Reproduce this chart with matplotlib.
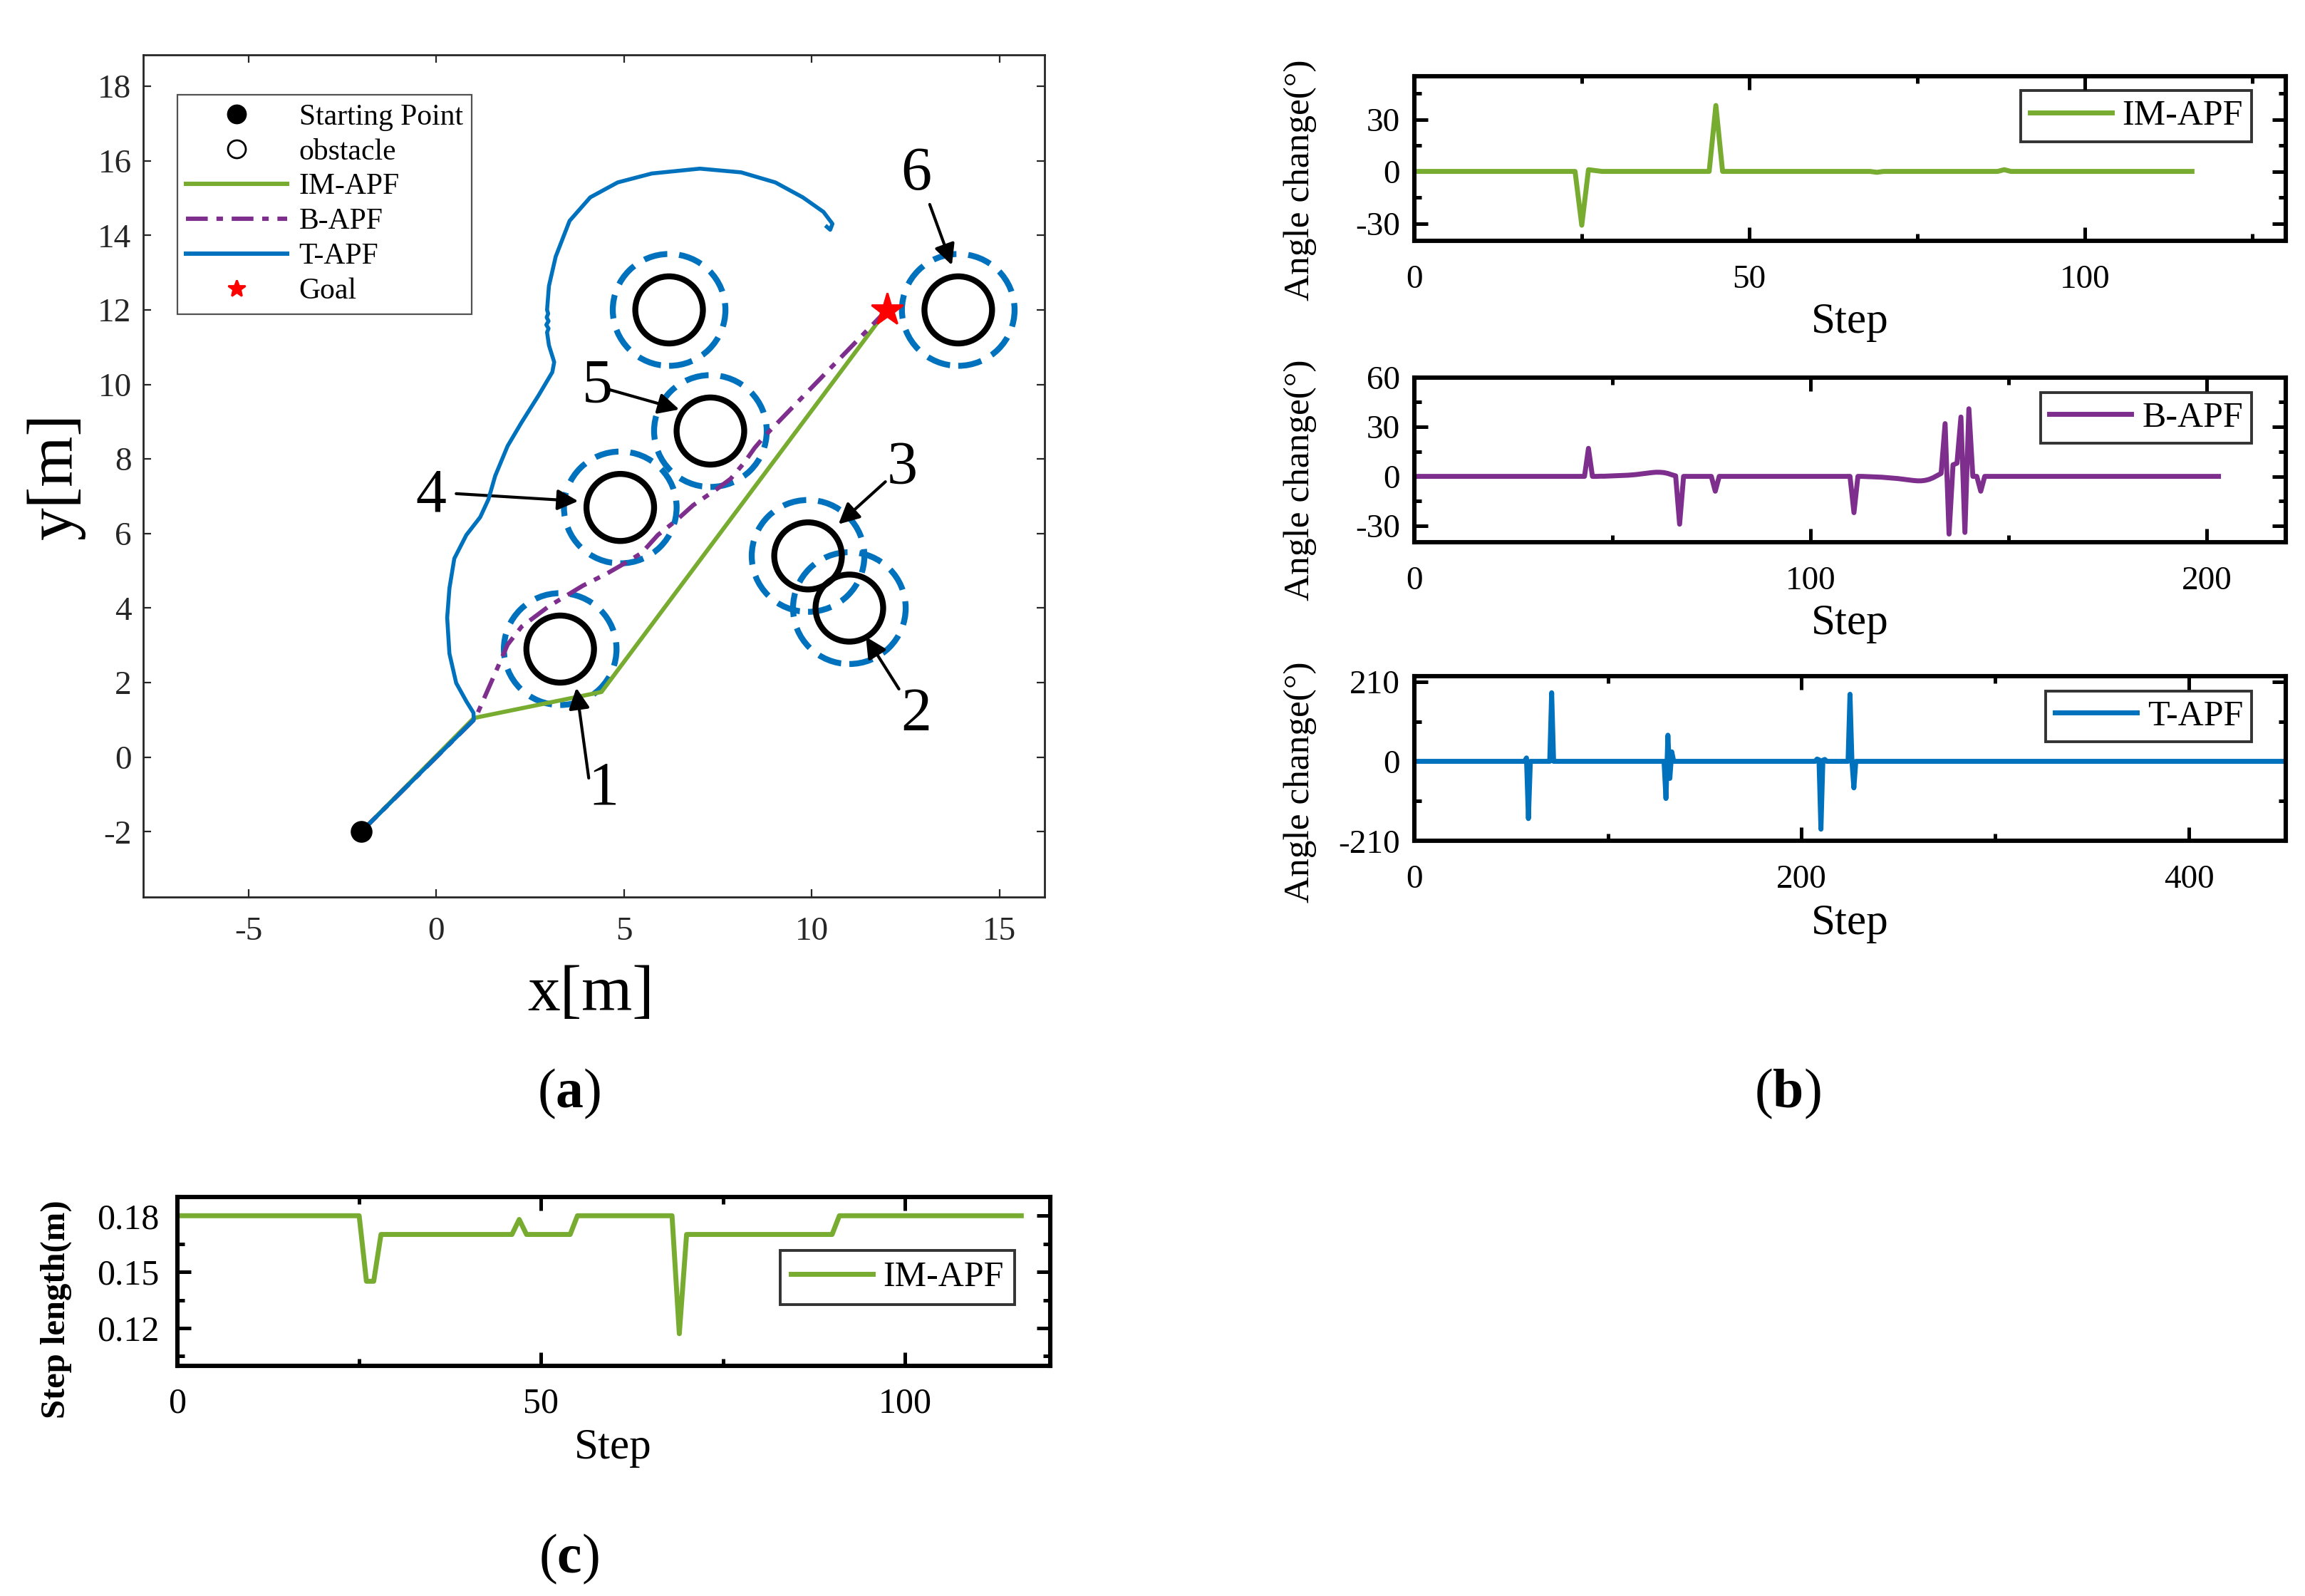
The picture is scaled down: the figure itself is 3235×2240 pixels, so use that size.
import matplotlib.pyplot as plt
import numpy as np
from matplotlib.lines import Line2D
from matplotlib.patches import Circle

plt.rcParams['font.family'] = ['Liberation Serif', 'DejaVu Serif']
plt.rcParams['mathtext.fontset'] = 'custom'
plt.rcParams['mathtext.rm'] = 'Liberation Serif'
plt.rcParams['mathtext.bf'] = 'Liberation Serif:bold'
plt.rcParams['axes.unicode_minus'] = False

GREEN = '#77AC30'
PURPLE = '#7E2F8E'
BLUE = '#0072BD'

# ---------------- (a) paths and obstacles ----------------
start = (-2, -2)
goal = (12, 12)
obs_x = [3.3, 11.0, 9.9, 4.9, 7.3, 6.2, 13.9]
obs_y = [2.9, 4.0, 5.4, 6.7, 8.75, 12.0, 12.0]
obs_r = 0.9
safe_r = 1.5

im_x = [-2, 1.0, 4.4, 12.0]
im_y = [-2, 1.05, 1.75, 12.0]

b_x = [-2, 0.8, 1.04, 1.9, 2.27, 3.0, 3.9, 4.55, 5.1, 5.47, 5.9, 6.4, 6.84,
       7.48, 7.84, 8.2, 8.48, 8.76, 12.0]
b_y = [-2, 0.8, 1.04, 3.02, 3.5, 4.05, 4.6, 4.93, 5.25, 5.48, 5.96, 6.36, 6.76,
       7.2, 7.47, 7.9, 8.3, 8.63, 12.0]

t_x = [-2, 1.0, 0.99, 0.8, 0.53, 0.35, 0.29, 0.35, 0.48, 0.8, 1.17, 1.39, 1.57,
       1.9, 2.27, 2.72, 3.09, 3.14, 3.0, 2.95, 2.99, 2.93, 2.99, 2.94, 2.98, 2.95,
       3.0, 3.18, 3.55, 4.1, 4.83, 5.74, 7.02, 8.12, 9.03, 9.76, 10.31, 10.55,
       10.49, 10.4]
t_y = [-2, 1.0, 1.19, 1.5, 1.99, 2.78, 3.74, 4.53, 5.33, 5.96, 6.44, 6.92, 7.55,
       8.35, 8.98, 9.7, 10.33, 10.6, 11.05, 11.4, 11.5, 11.6, 11.7, 11.8, 11.9,
       12.0, 12.64, 13.43, 14.39, 15.02, 15.42, 15.66, 15.79, 15.69, 15.42,
       15.02, 14.63, 14.31, 14.15, 14.23]

# numbered obstacle labels: text position, arrow tail, arrow head
num_labels = ['1', '2', '3', '4', '5', '6']
num_text = [(4.46, -0.87), (12.78, 1.11), (12.41, 7.74), (-0.15, 7.0), (4.28, 9.94), (12.78, 15.63)]
num_tail = [(4.06, -0.56), (12.32, 1.83), (11.96, 7.39), (0.53, 7.07), (4.61, 9.86), (13.14, 14.83)]
num_head = [(3.73, 1.86), (11.44, 3.23), (10.71, 6.25), (3.78, 6.87), (6.47, 9.33), (13.73, 13.2)]

# ---------------- (b) angle change per step ----------------
im_n = 117
im_steps = [25, 26, 27, 45, 69, 88]
im_vals = [-31, 1, 0.5, 38, -0.5, 1]

b_n = 204
b_steps = [44,
           47, 48, 49, 50, 51, 52, 53, 54, 55, 56, 57, 58, 59, 60, 61, 62, 63, 64, 65, 66,
           67, 76, 111,
           114, 115, 116, 117, 118, 119, 120, 121, 122, 123, 124, 125, 126, 127, 128,
           129, 130, 131, 132, 133,
           134, 135, 136, 137, 138, 139, 140, 143]
b_vals = [17,
          0.1, 0.1, 0.2, 0.3, 0.4, 0.5, 0.6, 0.7, 0.9, 1.1, 1.4, 1.7, 2.0, 2.3, 2.5, 2.5, 2.3, 1.8, 1.0, 0.3,
          -29, -9, -22,
          -0.1, -0.2, -0.3, -0.4, -0.5, -0.7, -0.9, -1.1, -1.3, -1.6, -1.9, -2.2, -2.5, -2.7, -2.7,
          -2.4, -1.8, -0.8, 0.5, 1.8,
          32, -35, 7, 8, 36, -34, 41, -9]

t_n = 451
t_steps = [58, 59, 71, 130, 131, 132, 133, 208, 209, 210, 211, 212, 225, 227]
t_vals = [9, -151, 181, -98, 69, -45, 25, 6, 4, -179, 3, 5, 177, -70]

# ---------------- (c) step length ----------------
sl_levels = [0.18, 0.145, 0.17, 0.178, 0.17, 0.18, 0.117, 0.17, 0.18]
sl_counts = [26, 2, 19, 1, 7, 14, 1, 21, 26]


def sparse_series(n, steps, vals):
    y = np.zeros(n)
    y[steps] = vals
    return y


fig = plt.figure(figsize=(16.175, 11.2), dpi=200)

# ======== panel (a) ========
ax = fig.add_axes([0.0622, 0.4380, 0.3910, 0.5278])
for cx, cy in zip(obs_x, obs_y):
    ax.add_patch(Circle((cx, cy), safe_r, fill=False, ec=BLUE, lw=3.0,
                        ls=(0, (4, 2)), zorder=1))
    ax.add_patch(Circle((cx, cy), obs_r, fill=False, ec='k', lw=3.0, zorder=2))
ax.plot(im_x, im_y, color=GREEN, lw=2.1, zorder=3)
ax.plot(b_x, b_y, color=PURPLE, lw=2.2, ls=(0, (5, 2, 1.5, 2)), zorder=3)
ax.plot(t_x, t_y, color=BLUE, lw=2.0, zorder=4)
ax.plot(*start, 'o', color='k', ms=10, zorder=5)
ax.plot(*goal, '*', color='r', ms=17, zorder=5)

for lab, tp, tl, hd in zip(num_labels, num_text, num_tail, num_head):
    ax.text(tp[0], tp[1], lab, fontsize=31, ha='center', va='center')
    ax.annotate('', xy=hd, xytext=tl,
                arrowprops=dict(arrowstyle='-|>', color='k', lw=1.5, mutation_scale=22,
                                shrinkA=0, shrinkB=0))

ax.set_xlim(-7.8, 16.2)
ax.set_ylim(-3.75, 18.85)
ax.set_xticks([-5, 0, 5, 10, 15])
ax.set_yticks(np.arange(-2, 19, 2))
ax.tick_params(direction='in', top=True, right=True, length=4, width=0.8,
               labelsize=17, colors='#262626', pad=10)
ax.tick_params(axis='y', pad=6)
for s in ax.spines.values():
    s.set_linewidth(1.0)
    s.set_color('#262626')

handles = [
    Line2D([], [], ls='none', marker='o', color='k', ms=9),
    Line2D([], [], ls='none', marker='o', mfc='none', mec='k', ms=9, mew=1.0),
    Line2D([], [], color=GREEN, lw=2.2),
    Line2D([], [], color=PURPLE, lw=2.2, ls=(0, (5, 2, 1.5, 2))),
    Line2D([], [], color=BLUE, lw=2.2),
    Line2D([], [], ls='none', marker='*', color='r', ms=9),
]
labels = ['Starting Point', 'obstacle', 'IM-APF', 'B-APF', 'T-APF', 'Goal']
leg = ax.legend(handles, labels, loc='upper left', bbox_to_anchor=(0.0377, 0.9526),
                borderaxespad=0, fontsize=15, handlelength=3.4, handletextpad=0.4,
                labelspacing=0.25, frameon=True, fancybox=False, borderpad=0.3)
leg.get_frame().set_edgecolor('#262626')
leg.get_frame().set_linewidth(0.8)

fig.text(0.2564, 0.3769, 'x[m]', fontsize=33, ha='center', va='center')
fig.text(0.0244, 0.7019, 'y[m]', fontsize=33, ha='center', va='center', rotation=90)

# ======== panel (b) ========
b_specs = [
    (sparse_series(im_n, im_steps, im_vals), GREEN, 'IM-APF', 0.8491, (0, 130), (-40, 55),
     [0, 50, 100], [25, 75, 125], [-30, 0, 30], [-15, 15, 45], 0.887, 0.7981),
    (sparse_series(b_n, b_steps, b_vals), PURPLE, 'B-APF', 0.6602, (0, 220), (-40, 60),
     [0, 100, 200], [50, 150], [-30, 0, 30, 60], [-15, 15, 45], 0.699, 0.6093),
    (sparse_series(t_n, t_steps, t_vals), BLUE, 'T-APF', 0.4731, (0, 450), (-210, 225),
     [0, 200, 400], [100, 300], [-210, 0, 210], [-105, 105], 0.510, 0.4213),
]
for vals, col, name, bottom, xl, yl, xt, xm, yt, ym, ylab_y, xlab_y in b_specs:
    bx = fig.add_axes([0.6135, bottom, 0.3782, 0.1033])
    bx.plot(np.arange(len(vals)), vals, color=col, lw=2.5, label=name)
    bx.set_xlim(*xl)
    bx.set_ylim(*yl)
    bx.set_xticks(xt)
    bx.set_xticks(xm, minor=True)
    bx.set_yticks(yt)
    bx.set_yticks(ym, minor=True)
    bx.tick_params(which='both', direction='in', top=True, right=True, width=1.8,
                   labelsize=17)
    bx.tick_params(which='major', length=7)
    bx.tick_params(which='minor', length=3.5)
    bx.tick_params(axis='x', pad=12)
    bx.tick_params(axis='y', pad=7)
    for s in bx.spines.values():
        s.set_linewidth(2.2)
    lg = bx.legend(loc='upper right', bbox_to_anchor=(0.961, 0.91), borderaxespad=0,
                   fontsize=18, handlelength=2.3, handletextpad=0.3, frameon=True,
                   fancybox=False, borderpad=0.25)
    lg.get_frame().set_edgecolor('k')
    lg.get_frame().set_linewidth(1.4)
    fig.text(0.8026, xlab_y, 'Step', fontsize=22, ha='center', va='center')
    fig.text(0.5641, ylab_y, 'Angle change(°)', fontsize=18.5, ha='center', va='center',
             rotation=90)

# ======== panel (c) ========
cx_ = fig.add_axes([0.0769, 0.1444, 0.3788, 0.1056])
sl = np.repeat(sl_levels, sl_counts)
cx_.plot(np.arange(len(sl)), sl, color=GREEN, lw=2.5, label='IM-APF')
cx_.set_xlim(0, 120)
cx_.set_ylim(0.10, 0.19)
cx_.set_xticks([0, 50, 100])
cx_.set_xticks([25, 75], minor=True)
cx_.set_yticks([0.12, 0.15, 0.18])
cx_.set_yticks([0.105, 0.135, 0.165], minor=True)
cx_.tick_params(which='both', direction='in', top=True, right=True, width=1.8,
                labelsize=18)
cx_.tick_params(which='major', length=7)
cx_.tick_params(which='minor', length=3.5)
cx_.tick_params(axis='x', pad=11)
cx_.tick_params(axis='y', pad=9)
for s in cx_.spines.values():
    s.set_linewidth(2.2)
lg = cx_.legend(loc='upper right', bbox_to_anchor=(0.959, 0.684), borderaxespad=0,
                fontsize=18, handlelength=2.3, handletextpad=0.3, frameon=True,
                fancybox=False, borderpad=0.3)
lg.get_frame().set_edgecolor('k')
lg.get_frame().set_linewidth(1.4)
fig.text(0.266, 0.0926, 'Step', fontsize=22, ha='center', va='center')
fig.text(0.0244, 0.1796, 'Step length(m)', fontsize=17.5, fontweight='bold',
         ha='center', va='center', rotation=90)

# panel captions
fig.text(0.2468, 0.3148, r'($\mathbf{a}$)', fontsize=28, ha='center', va='center')
fig.text(0.7756, 0.3148, r'($\mathbf{b}$)', fontsize=28, ha='center', va='center')
fig.text(0.2468, 0.0231, r'($\mathbf{c}$)', fontsize=28, ha='center', va='center')

fig.savefig('out.png', dpi=200)
